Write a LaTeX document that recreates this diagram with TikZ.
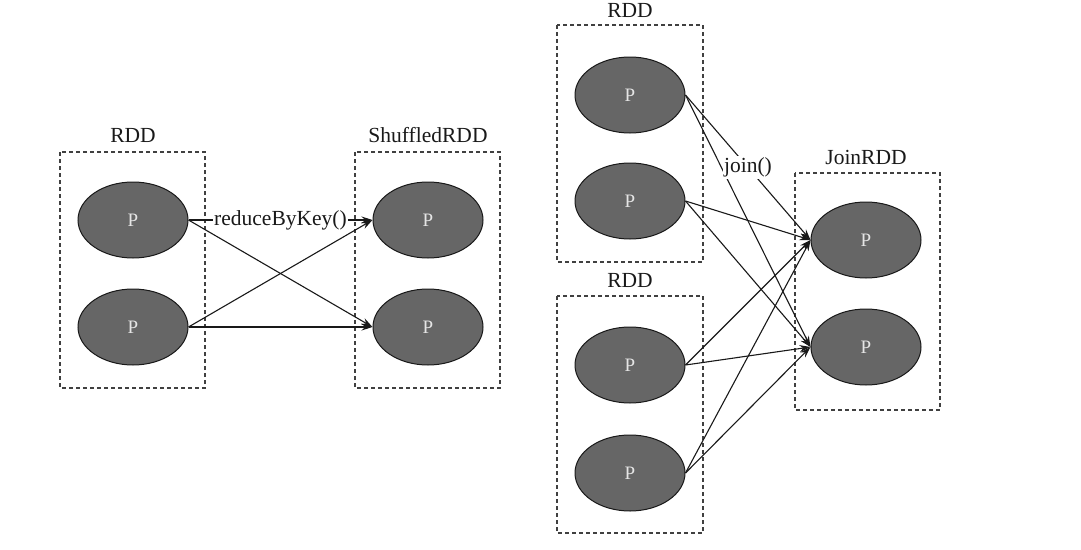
\documentclass[tikz,border=0pt]{standalone}
\usepackage{fontspec}
\setmainfont{Liberation Serif}
\usetikzlibrary{arrows.meta,shapes.geometric}
\begin{document}
\begin{tikzpicture}[x=1pt,y=-1pt,
  part/.style={ellipse,draw=black!90,line width=1pt,fill=black!60,minimum width=110pt,minimum height=76pt,inner sep=0pt,text=black!10,font=\fontsize{19}{21}\selectfont},
  rddbox/.style={draw=black!75,line width=1.3pt,dash pattern=on 4pt off 3pt},
  title/.style={font=\fontsize{21.5}{24}\selectfont,text=black!90},
  conn/.style={draw=black!90,line width=1.1pt,-{Stealth[length=11pt,width=7pt]}},
  elabel/.style={fill=white,inner sep=1.5pt,font=\fontsize{21.5}{24}\selectfont,text=black!90}]
\useasboundingbox (0,0) rectangle (1081,549);
% left group
\draw[rddbox] (60,152) rectangle (205,388);
\node[title] (t1) at (133,135) {RDD};
\node[part] (a1) at (133,220) {P};
\node[part] (a2) at (133,327) {P};
\draw[rddbox] (355,152) rectangle (500,388);
\node[title] (t2) at (428,135) {ShuffledRDD};
\node[part] (b1) at (428,220) {P};
\node[part] (b2) at (428,327) {P};
\draw[conn] (a1.east) -- node[elabel] {reduceByKey()} (b1.west);
\draw[conn] (a1.east) -- (b2.west);
\draw[conn] (a2.east) -- (b1.west);
\draw[conn] (a2.east) -- (b2.west);
% right group
\draw[rddbox] (557,25) rectangle (703,262);
\node[title] (t3) at (630,10) {RDD};
\node[part] (c1) at (630,95) {P};
\node[part] (c2) at (630,201) {P};
\draw[rddbox] (557,296) rectangle (703,533);
\node[title] (t4) at (630,280) {RDD};
\node[part] (d1) at (630,365) {P};
\node[part] (d2) at (630,473) {P};
\draw[rddbox] (795,173) rectangle (940,410);
\node[title] (t5) at (866,157) {JoinRDD};
\node[part] (e1) at (866,240) {P};
\node[part] (e2) at (866,347) {P};
\draw[conn] (c1.east) -- (e2.west);
\draw[conn] (c2.east) -- (e1.west);
\draw[conn] (c2.east) -- (e2.west);
\draw[conn] (d1.east) -- (e1.west);
\draw[conn] (d1.east) -- (e2.west);
\draw[conn] (d2.east) -- (e1.west);
\draw[conn] (d2.east) -- (e2.west);
\draw[conn] (c1.east) -- node[elabel,pos=0.5] {join()} (e1.west);
\end{tikzpicture}
\end{document}
